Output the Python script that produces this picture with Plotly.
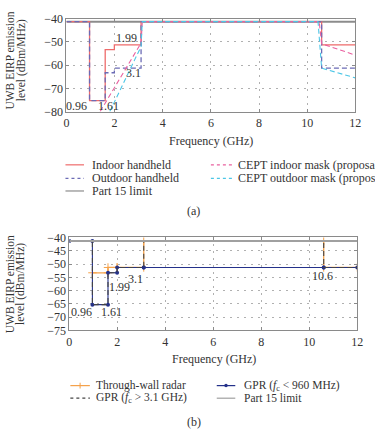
import plotly.graph_objects as go

W, H = 375, 442
FONT = "Liberation Serif"
TXT = "#333333"

# ---------------- data: chart (a) ----------------
edges_a = [0, 0.96, 1.61, 1.99, 3.1, 10.6, 12]
indoor_levels = [-41.3, -75.3, -53.3, -51.3, -41.3, -51.3]
outdoor_levels = [-41.3, -75.3, -63.3, -61.3, -41.3, -61.3]
cept_indoor_x = [1.4, 3.1, 3.15, 10.5, 10.6, 12]
cept_indoor_y = [-80, -50.5, -41.3, -41.3, -50.8, -55.7]
cept_outdoor_x = [1.8, 3.1, 3.15, 10.45, 10.6, 12]
cept_outdoor_y = [-80, -52.0, -41.3, -41.3, -61.3, -65.5]
part15_x = [0, 12]
part15_y = [-41.3, -41.3]
labels_a_text = ["0.96", "1.61", "1.99", "3.1"]
labels_a_x = [0.43, 1.74, 2.5, 2.8]
labels_a_y = [-77.5, -77.5, -48.3, -63.3]

# ---------------- data: chart (b) ----------------
edges_b = [0, 0.96, 1.61, 1.99, 3.1, 10.6, 12]
gpr_low_levels = [-41.3, -65.3, -53.3, -51.3, -51.3, -51.3]
gpr_high_levels = [-41.3, -65.3, -53.3, -51.3, -41.3, -51.3]
tw_edges = [0.96, 1.61, 1.99, 3.1, 10.6, 12]
tw_levels = [-53.3, -51.3, -51.3, -41.3, -51.3]
labels_b_text = ["0.96", "1.61", "1.99", "3.1", "10.6"]
labels_b_x = [0.49, 1.75, 2.07, 2.75, 10.56]
labels_b_y = [-68.1, -68.1, -58.6, -55.7, -54.6]

x_ticks = [0, 2, 4, 6, 8, 10, 12]
y_ticks_a = [-80, -70, -60, -50, -40]
y_ticks_b = [-75, -70, -65, -60, -55, -50, -45, -40]


def steps(edges, levels):
    xs, ys = [], []
    for i, lv in enumerate(levels):
        xs += [edges[i], edges[i + 1]]
        ys += [lv, lv]
    return xs, ys


def px_x(p):
    return p / W


def px_y(p):
    return 1 - p / H


C_RED = "#EE6B6B"
C_PUR = "#6B6BB5"
C_PINK = "#E9609F"
C_CYAN = "#4CC6E6"
C_GRAY = "#8C8C8C"
C_ORANGE = "#F5A24B"
C_NAVY = "#24318A"
C_DARK = "#444444"
DASH = "5px,3px"

fig = go.Figure()

# chart (a)
ix, iy = steps(edges_a, indoor_levels)
ox, oy = steps(edges_a, outdoor_levels)
series_a = [
    dict(name="Indoor handheld", x=ix, y=iy, color=C_RED, dash="solid", width=1.3),
    dict(name="Outdoor handheld", x=ox, y=oy, color=C_PUR, dash=DASH, width=1.3),
    dict(name="CEPT indoor mask (proposal)", x=cept_indoor_x, y=cept_indoor_y, color=C_PINK, dash=DASH, width=1.1),
    dict(name="CEPT outdoor mask (proposal)", x=cept_outdoor_x, y=cept_outdoor_y, color=C_CYAN, dash=DASH, width=1.1),
    dict(name="Part 15 limit", x=part15_x, y=part15_y, color=C_GRAY, dash="solid", width=2),
]
draw_order_a = [4, 0, 1, 2, 3]
for k in draw_order_a:
    s = series_a[k]
    fig.add_trace(go.Scatter(x=s["x"], y=s["y"], mode="lines", name=s["name"],
                             line=dict(color=s["color"], dash=s["dash"], width=s["width"]),
                             xaxis="x", yaxis="y", showlegend=False))

# chart (b)
tx, ty = steps(tw_edges, tw_levels)
glx, gly = steps(edges_b, gpr_low_levels)
ghx, ghy = steps(edges_b, gpr_high_levels)
series_b = [
    dict(name="Through-wall radar", x=tx, y=ty, color=C_ORANGE, dash="solid", width=1.3,
         marker=dict(symbol="cross-thin", size=6, line=dict(color=C_ORANGE, width=1))),
    dict(name="GPR (<i>f</i><sub>c</sub> < 960 MHz)", x=glx, y=gly, color=C_NAVY, dash="solid", width=1.1,
         marker=dict(symbol="circle", size=4, color=C_NAVY)),
    dict(name="GPR (<i>f</i><sub>c</sub> > 3.1 GHz)", x=ghx, y=ghy, color=C_DARK, dash=DASH, width=1.1, marker=None),
    dict(name="Part 15 limit", x=part15_x, y=part15_y, color="#A0A0A0", dash="solid", width=2, marker=None),
]
for s in series_b:
    fig.add_trace(go.Scatter(x=s["x"], y=s["y"], mode="lines+markers" if s["marker"] else "lines",
                             name=s["name"], marker=s["marker"],
                             line=dict(color=s["color"], dash=s["dash"], width=s["width"]),
                             xaxis="x2", yaxis="y2", showlegend=False))

axis_common = dict(showline=True, linecolor="#8a8a8a", linewidth=1, mirror="ticks",
                   ticks="inside", ticklen=3, tickcolor="#8a8a8a",
                   showgrid=True, gridcolor="#b0b0b0", gridwidth=1, griddash="2px,5px",
                   zeroline=False, tickfont=dict(family=FONT, size=12, color=TXT))

fig.update_layout(
    width=W, height=H, margin=dict(l=0, r=0, t=0, b=0),
    paper_bgcolor="white", plot_bgcolor="white", showlegend=False,
    font=dict(family=FONT, size=12, color=TXT),
    xaxis=dict(domain=[px_x(65), px_x(361)], range=[0, 12], tickvals=x_ticks, anchor="y", **axis_common),
    yaxis=dict(domain=[px_y(108), px_y(12)], range=[-80, -40], tickvals=y_ticks_a,
               ticktext=[str(v).replace("-", "\u2212") for v in y_ticks_a], anchor="x", **axis_common),
    xaxis2=dict(domain=[px_x(68), px_x(363)], range=[0, 12], tickvals=x_ticks, anchor="y2", **axis_common),
    yaxis2=dict(domain=[px_y(334), px_y(238)], range=[-75, -40], tickvals=y_ticks_b,
                ticktext=[str(v).replace("-", "\u2212") for v in y_ticks_b], anchor="x2", **axis_common),
)

ann = []
# data labels
for t, x, y in zip(labels_a_text, labels_a_x, labels_a_y):
    ann.append(dict(text=t, x=x, y=y, xref="x", yref="y", showarrow=False,
                    font=dict(family=FONT, size=12, color=TXT), xanchor="center", yanchor="middle"))
for t, x, y in zip(labels_b_text, labels_b_x, labels_b_y):
    ann.append(dict(text=t, x=x, y=y, xref="x2", yref="y2", showarrow=False,
                    font=dict(family=FONT, size=12, color=TXT), xanchor="center", yanchor="middle"))


def paper_text(text, xp, yp, xanchor="center", angle=0, size=12):
    ann.append(dict(text=text, x=px_x(xp), y=px_y(yp), xref="paper", yref="paper", showarrow=False,
                    textangle=angle, xanchor=xanchor, yanchor="middle",
                    font=dict(family=FONT, size=size, color=TXT)))


# axis titles
paper_text("Frequency (GHz)", 213, 138)
paper_text("Frequency (GHz)", 216, 364)
paper_text("UWB EIRP emission", 7.5, 55, angle=-90, size=11.5)
paper_text("level (dBm/MHz)", 18.5, 55, angle=-90, size=11.5)
paper_text("UWB EIRP emission", 7.5, 286, angle=-90, size=11.5)
paper_text("level (dBm/MHz)", 18.5, 286, angle=-90, size=11.5)
paper_text("(a)", 195, 211)
paper_text("(b)", 196, 429)

shapes = []


def legend_item(s, x0, x1, xt, yc, size=12):
    dash = "solid" if s["dash"] == "solid" else "3px,3px"
    shapes.append(dict(type="line", xref="paper", yref="paper", x0=px_x(x0), x1=px_x(x1),
                       y0=px_y(yc), y1=px_y(yc), line=dict(color=s["color"], width=1.2, dash=dash)))
    m = s.get("marker")
    xm = (x0 + x1) / 2
    if m and m["symbol"] == "cross-thin":
        shapes.append(dict(type="line", xref="paper", yref="paper", x0=px_x(xm), x1=px_x(xm),
                           y0=px_y(yc - 3), y1=px_y(yc + 3), line=dict(color=s["color"], width=1)))
    elif m:
        shapes.append(dict(type="circle", xref="paper", yref="paper", x0=px_x(xm - 1.8), x1=px_x(xm + 1.8),
                           y0=px_y(yc - 1.8), y1=px_y(yc + 1.8), fillcolor=s["color"],
                           line=dict(color=s["color"], width=0)))
    paper_text(s["name"], xt, yc, xanchor="left", size=size)


# legend (a): row-major, two columns
leg_a_order = [0, 2, 1, 3, 4]
rows_a = [163, 177, 190]
cols_a = [(64, 83, 89), (213, 235, 239)]
for i, k in enumerate(leg_a_order):
    r, c = divmod(i, 2)
    x0, x1, xt = cols_a[c]
    legend_item(series_a[k], x0, x1, xt, rows_a[r])

rows_b = [391, 404]
cols_b = [(69, 89, 93), (219, 238, 245)]
for i, s in enumerate(series_b):
    r, c = divmod(i, 2)
    x0, x1, xt = cols_b[c]
    legend_item(s, x0, x1, xt, rows_b[r], size=11.5)

fig.update_layout(annotations=ann, shapes=shapes)
fig.write_html("out.html")
